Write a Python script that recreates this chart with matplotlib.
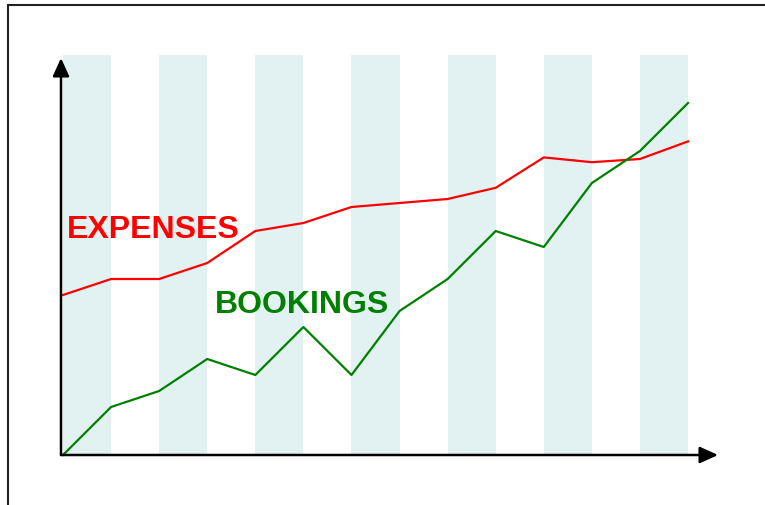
import matplotlib
matplotlib.use("Agg")
import matplotlib.pyplot as plt
from matplotlib.patches import Rectangle

# data
periods = list(range(14))
expenses = [10, 11, 11, 12, 14, 14.5, 15.5, 15.75, 16, 16.7, 18.6, 18.3, 18.5, 19.6]
bookings = [0, 3, 4, 6, 5, 8, 5, 9, 11, 14, 13, 17, 19, 22]
stripe_starts = [0, 2, 4, 6, 8, 10, 12]
stripe_top = 25

fig = plt.figure(figsize=(7.65, 5.06), dpi=100)
ax = fig.add_axes([0, 0, 1, 1])
ax.set_xlim(-63 / 48.08, (765 - 63) / 48.08)
ax.set_ylim(-50 / 16, 456 / 16)
ax.axis("off")

# outer frame
fig.patches.append(Rectangle((8 / 765, -0.1), 1.2, 1 - 6 / 506 + 0.1,
                             transform=fig.transFigure, fill=False,
                             edgecolor="#222222", linewidth=1.5))

for s in stripe_starts:
    ax.add_patch(Rectangle((s, 0), 1, stripe_top, facecolor="#e2f2f2",
                           edgecolor="none", zorder=1))

ax.plot(periods, expenses, color="#ff0000", linewidth=1.6, zorder=3)
ax.plot(periods, bookings, color="#008000", linewidth=1.6, zorder=3)

# axes with arrows
x0 = -2 / 48.08
ax.annotate("", xy=(x0, (455 - 58) / 16), xytext=(x0, 0),
            arrowprops=dict(arrowstyle="-|>,head_length=1.1,head_width=0.5",
                            color="black", lw=1.8, shrinkA=0, shrinkB=0), zorder=4)
ax.annotate("", xy=((718 - 63) / 48.08, 0), xytext=(x0, 0),
            arrowprops=dict(arrowstyle="-|>,head_length=1.1,head_width=0.5",
                            color="black", lw=1.8, shrinkA=0, shrinkB=0), zorder=4)

ax.text((67 - 63) / 48.08, (455 - 229) / 16, "EXPENSES", color="#ff0000",
        fontsize=23, fontweight="bold", family="Liberation Sans",
        ha="left", va="center", zorder=5)
ax.text((215 - 63) / 48.08, (455 - 304) / 16, "BOOKINGS", color="#008000",
        fontsize=23, fontweight="bold", family="Liberation Sans",
        ha="left", va="center", zorder=5)

fig.savefig("out.png", dpi=100)
